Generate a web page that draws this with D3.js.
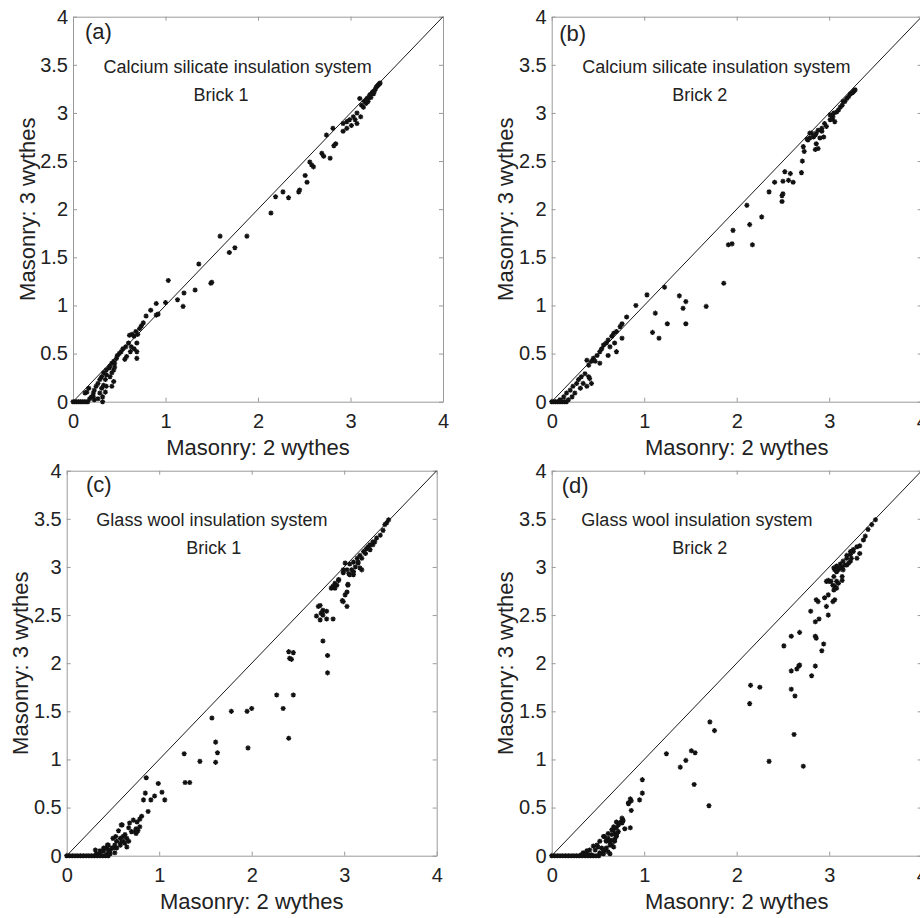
<!DOCTYPE html>
<html><head><meta charset="utf-8">
<script src="https://cdn.jsdelivr.net/npm/d3@7"></script>
<style>
html,body{margin:0;padding:0;background:#fff;}
svg{display:block;}
text{font-family:"Liberation Sans",Arial,sans-serif;fill:#222;}
</style></head>
<body>
<svg id="chart" width="920" height="918"></svg>
<script>
// ---------- data ----------
const xTicks = [0, 1, 2, 3, 4];
const yTicks = [0, 0.5, 1, 1.5, 2, 2.5, 3, 3.5, 4];
const xTickLabels = ["0", "1", "2", "3", "4"];
const yTickLabels = ["0", "0.5", "1", "1.5", "2", "2.5", "3", "3.5", "4"];
const xAxisTitle = "Masonry: 2 wythes";
const yAxisTitle = "Masonry: 3 wythes";
const panelLetters = ["(a)", "(b)", "(c)", "(d)"];
const systemNames = ["Calcium silicate insulation system", "Calcium silicate insulation system",
                     "Glass wool insulation system", "Glass wool insulation system"];
const brickNames = ["Brick 1", "Brick 2", "Brick 1", "Brick 2"];
const diagonal = [[0, 0], [4, 4]];

const pointsA = [[0,0],[0.02,0],[0.04,0],[0.06,0],[0.08,0],[0.10,0],[0.12,0],[0.14,0],[0.16,0],
[0.13,0.09],[0.15,0.10],[0.17,0.14],[0.18,0.03],[0.20,0.05],[0.22,0.09],[0.22,0.05],[0.23,0.12],[0.23,0.02],[0.25,0.16],[0.27,0.19],[0.27,0.03],[0.29,0.23],[0.29,0.09],[0.31,0.26],[0.31,0.14],[0.32,0.05],[0.32,0.0],[0.33,0.30],[0.33,0.17],[0.35,0.23],[0.35,0.10],[0.36,0.33],[0.36,0.28],[0.36,0.16],[0.39,0.35],[0.40,0.37],[0.40,0.26],[0.42,0.40],[0.42,0.30],[0.42,0.16],[0.44,0.42],[0.44,0.33],[0.44,0.21],[0.45,0.40],[0.45,0.36],[0.47,0.45],[0.48,0.48],[0.50,0.50],[0.52,0.52],[0.54,0.55],[0.56,0.44],[0.57,0.57],[0.58,0.47],[0.60,0.61],[0.62,0.52],[0.63,0.57],[0.66,0.55],[0.69,0.61],[0.69,0.52],[0.69,0.45],[0.61,0.69],[0.64,0.70],[0.66,0.68],[0.68,0.73],[0.70,0.70],[0.72,0.76],[0.74,0.79],[0.76,0.82],[0.79,0.89],[0.84,0.95],[0.90,1.02],[0.90,0.90],[0.92,0.91],[1.00,1.03],[1.03,1.26],[1.13,1.06],[1.19,0.99],[1.20,1.13],[1.32,1.16],[1.36,1.43],[1.50,1.24],[1.49,1.23],[1.59,1.72],[1.69,1.55],[1.75,1.60],[1.88,1.72],[2.14,1.96],[2.19,2.13],[2.27,2.18],[2.33,2.12],[2.44,2.18],[2.45,2.20],[2.51,2.35],[2.53,2.28],[2.56,2.49],[2.58,2.46],[2.60,2.44],[2.69,2.58],[2.71,2.55],[2.74,2.77],[2.78,2.53],[2.81,2.84],[2.82,2.66],[2.84,2.68],[2.92,2.81],[2.92,2.89],[2.96,2.84],[2.96,2.91],[2.99,2.93],[3.01,2.87],[3.03,2.96],[3.05,2.93],[3.07,2.89],[3.07,3.00],[3.10,3.15],[3.11,2.96],[3.14,3.06],[3.12,3.08],[3.15,3.12],[3.17,3.10],[3.18,3.15],[3.20,3.16],[3.21,3.19],[3.23,3.20],[3.24,3.22],[3.26,3.23],[3.27,3.25],[3.28,3.27],[3.29,3.28],[3.30,3.29],[3.31,3.30],[3.32,3.31],[3.22,3.16],[3.25,3.20],[3.19,3.12]];

const pointsB = [[0,0],[0.02,0],[0.04,0],[0.06,0],[0.08,0],[0.10,0],[0.12,0],[0.14,0],[0.16,0],
[0.09,0.02],[0.13,0.05],[0.16,0.09],[0.18,0.02],[0.20,0.12],[0.22,0.05],[0.23,0.16],[0.25,0.09],[0.27,0.19],[0.29,0.23],[0.31,0.14],[0.32,0.26],[0.34,0.19],[0.36,0.29],[0.38,0.16],[0.38,0.43],[0.40,0.38],[0.40,0.26],[0.41,0.24],[0.43,0.42],[0.43,0.19],[0.45,0.45],[0.47,0.42],[0.49,0.48],[0.52,0.52],[0.52,0.40],[0.54,0.55],[0.56,0.59],[0.59,0.61],[0.61,0.64],[0.61,0.48],[0.63,0.57],[0.65,0.68],[0.67,0.71],[0.68,0.61],[0.70,0.73],[0.70,0.52],[0.74,0.78],[0.76,0.81],[0.76,0.66],[0.81,0.88],[0.91,1.00],[1.03,1.11],[1.09,0.72],[1.12,0.92],[1.16,0.66],[1.22,1.19],[1.25,0.81],[1.38,1.10],[1.42,0.97],[1.45,1.04],[1.45,0.81],[1.67,0.99],[1.86,1.23],[1.91,1.63],[1.95,1.64],[1.96,1.78],[2.11,2.04],[2.14,1.84],[2.17,1.63],[2.27,1.92],[2.35,2.18],[2.41,2.28],[2.49,2.14],[2.49,2.08],[2.50,2.29],[2.50,2.16],[2.52,2.39],[2.56,2.30],[2.58,2.37],[2.61,2.28],[2.70,2.38],[2.71,2.50],[2.72,2.65],[2.73,2.60],[2.76,2.73],[2.77,2.72],[2.79,2.79],[2.79,2.74],[2.81,2.79],[2.83,2.75],[2.85,2.62],[2.85,2.77],[2.86,2.79],[2.86,2.68],[2.88,2.63],[2.88,2.82],[2.90,2.74],[2.92,2.81],[2.92,2.84],[2.94,2.75],[2.95,2.89],[2.97,2.86],[3.01,2.98],[3.01,2.93],[3.03,2.94],[3.04,2.96],[3.05,3.00],[3.06,2.91],[3.08,3.01],[3.10,3.03],[3.12,3.06],[3.14,3.08],[3.15,3.12],[3.17,3.12],[3.19,3.15],[3.21,3.17],[3.23,3.20],[3.25,3.21],[3.26,3.22],[3.27,3.23],[3.28,3.24]];

const pointsC = [[0,0],[0.03,0],[0.06,0],[0.09,0],[0.12,0],[0.15,0],[0.18,0],[0.21,0],[0.24,0],[0.27,0],[0.30,0],[0.33,0],[0.36,0],[0.39,0],[0.42,0],[0.45,0],
[0.31,0.06],[0.32,0.02],[0.36,0.02],[0.36,0.05],[0.40,0.05],[0.40,0.08],[0.43,0.08],[0.43,0.01],[0.44,0.11],[0.45,0.11],[0.45,0.05],[0.47,0.02],[0.47,0.06],[0.49,0.08],[0.50,0.18],[0.50,0.08],[0.52,0.11],[0.52,0.03],[0.53,0.20],[0.54,0.08],[0.54,0.15],[0.56,0.26],[0.58,0.13],[0.58,0.18],[0.58,0.11],[0.59,0.32],[0.60,0.32],[0.61,0.20],[0.61,0.15],[0.63,0.13],[0.63,0.22],[0.65,0.09],[0.65,0.18],[0.67,0.15],[0.67,0.29],[0.68,0.34],[0.70,0.25],[0.72,0.37],[0.74,0.25],[0.75,0.28],[0.75,0.23],[0.76,0.35],[0.77,0.26],[0.79,0.38],[0.79,0.30],[0.81,0.41],[0.83,0.58],[0.85,0.65],[0.86,0.81],[0.88,0.46],[0.91,0.58],[0.95,0.62],[0.99,0.75],[1.03,0.66],[1.06,0.58],[1.27,1.06],[1.28,0.76],[1.33,0.76],[1.44,0.98],[1.57,1.43],[1.61,1.18],[1.63,1.07],[1.61,0.97],[1.78,1.50],[1.95,1.50],[1.96,1.12],[2.00,1.53],[2.27,1.67],[2.34,1.53],[2.40,1.22],[2.40,2.12],[2.41,2.05],[2.43,2.04],[2.45,2.11],[2.45,1.67],[2.70,2.49],[2.72,2.59],[2.74,2.45],[2.74,2.60],[2.75,2.52],[2.76,2.52],[2.77,2.50],[2.77,2.55],[2.77,2.23],[2.81,2.46],[2.81,2.54],[2.82,2.08],[2.82,1.90],[2.86,2.78],[2.88,2.80],[2.88,2.46],[2.88,2.79],[2.90,2.83],[2.90,2.78],[2.92,2.81],[2.94,2.86],[2.94,2.87],[2.98,2.65],[2.99,2.94],[2.99,2.97],[2.99,2.64],[3.01,2.71],[3.01,3.04],[3.03,2.59],[3.03,2.74],[3.03,2.97],[3.04,2.82],[3.04,2.81],[3.05,2.93],[3.06,2.92],[3.06,3.03],[3.08,2.97],[3.10,2.95],[3.10,3.05],[3.10,2.92],[3.12,3.00],[3.14,3.09],[3.15,3.04],[3.15,3.05],[3.17,3.12],[3.17,2.99],[3.19,3.09],[3.19,2.97],[3.21,3.16],[3.23,3.14],[3.24,3.19],[3.26,3.21],[3.28,3.23],[3.28,3.18],[3.31,3.26],[3.31,3.23],[3.33,3.26],[3.35,3.30],[3.39,3.33],[3.42,3.38],[3.44,3.44],[3.46,3.46],[3.48,3.49]];

const pointsD = [[0,0],[0.03,0],[0.06,0],[0.09,0],[0.12,0],[0.15,0],[0.18,0],[0.21,0],[0.24,0],[0.27,0],[0.30,0],[0.33,0],[0.36,0],[0.39,0],[0.42,0],[0.45,0],[0.48,0],[0.51,0],
[0.32,0.01],[0.34,0.03],[0.36,0.02],[0.38,0.05],[0.40,0.01],[0.41,0.06],[0.43,0.01],[0.45,0.10],[0.47,0.06],[0.49,0.11],[0.50,0.09],[0.52,0.15],[0.52,0.02],[0.52,0.03],[0.54,0.08],[0.56,0.20],[0.56,0.05],[0.56,0.02],[0.57,0.20],[0.58,0.06],[0.59,0.15],[0.59,0.16],[0.59,0.08],[0.61,0.18],[0.61,0.23],[0.61,0.04],[0.63,0.11],[0.63,0.15],[0.63,0.02],[0.65,0.22],[0.65,0.27],[0.65,0.11],[0.65,0.16],[0.67,0.27],[0.67,0.30],[0.67,0.09],[0.68,0.17],[0.68,0.23],[0.68,0.15],[0.70,0.29],[0.70,0.35],[0.70,0.22],[0.70,0.20],[0.72,0.25],[0.72,0.32],[0.74,0.34],[0.75,0.35],[0.76,0.39],[0.76,0.34],[0.77,0.36],[0.77,0.37],[0.79,0.28],[0.83,0.54],[0.83,0.55],[0.85,0.59],[0.85,0.29],[0.86,0.57],[0.86,0.47],[0.95,0.58],[0.98,0.65],[0.98,0.79],[1.24,1.06],[1.39,0.92],[1.45,0.99],[1.51,1.09],[1.55,1.07],[1.54,0.74],[1.70,0.52],[1.71,1.39],[1.76,1.30],[2.14,1.58],[2.15,1.77],[2.25,1.75],[2.35,0.98],[2.51,2.18],[2.59,2.28],[2.59,1.92],[2.59,1.73],[2.62,1.26],[2.63,1.66],[2.65,1.94],[2.67,1.97],[2.68,1.98],[2.68,2.32],[2.72,0.93],[2.80,2.54],[2.81,1.87],[2.85,2.28],[2.85,1.97],[2.85,2.43],[2.86,2.26],[2.86,2.66],[2.88,2.64],[2.89,2.46],[2.92,2.13],[2.94,2.20],[2.95,2.68],[2.97,2.59],[2.97,2.85],[2.99,2.50],[2.99,2.71],[2.99,2.86],[3.00,2.85],[3.02,2.85],[3.04,2.64],[3.04,2.81],[3.05,2.76],[3.05,2.90],[3.05,2.99],[3.06,2.66],[3.06,2.80],[3.06,2.97],[3.08,2.85],[3.08,2.95],[3.08,3.01],[3.08,2.78],[3.10,2.83],[3.10,2.97],[3.12,2.99],[3.12,3.03],[3.14,2.90],[3.14,2.86],[3.14,3.00],[3.15,3.06],[3.15,2.97],[3.17,3.02],[3.19,3.09],[3.19,3.02],[3.19,3.12],[3.21,3.04],[3.23,3.13],[3.23,3.06],[3.23,3.16],[3.24,3.09],[3.26,3.16],[3.26,3.18],[3.30,3.21],[3.30,3.09],[3.33,3.22],[3.33,3.14],[3.37,3.28],[3.39,3.32],[3.42,3.39],[3.46,3.44],[3.50,3.49]];

const panelPoints = [pointsA, pointsB, pointsC, pointsD];

// ---------- layout (pixels) ----------
const W = 370, H = 385;
const panelPos = [
  {left: 73,    top: 16.7,  letterDx: 12,  letterBase: 22},
  {left: 551.7, top: 16.7,  letterDx: 7.6, letterBase: 24},
  {left: 66.7,  top: 470.7, letterDx: 19.3,letterBase: 21},
  {left: 551.7, top: 470.7, letterDx: 10,  letterBase: 22.5}
];
const textPos = [
  {sx: 1.78, sy: 3.418, bx: 1.60, by: 3.127},
  {sx: 1.78, sy: 3.418, bx: 1.60, by: 3.127},
  {sx: 1.57, sy: 3.43,  bx: 1.59, by: 3.13},
  {sx: 1.57, sy: 3.43,  bx: 1.60, by: 3.13}
];
const axisColor = "#9a9a9a";

const svg = d3.select("#chart");
svg.append("rect").attr("width", 920).attr("height", 918).attr("fill", "#fff");

const asterisk = {
  draw(ctx, size) {
    const r = Math.sqrt(size) / 2, d = r * 0.7071;
    ctx.moveTo(-r, 0); ctx.lineTo(r, 0);
    ctx.moveTo(0, -r); ctx.lineTo(0, r);
    ctx.moveTo(-d, -d); ctx.lineTo(d, d);
    ctx.moveTo(-d, d); ctx.lineTo(d, -d);
  }
};
const sym = d3.symbol().type(asterisk).size(26);

panelPos.forEach((p, i) => {
  const x = d3.scaleLinear().domain([0, 4]).range([0, W]);
  const y = d3.scaleLinear().domain([0, 4]).range([H, 0]);
  const g = svg.append("g").attr("transform", `translate(${p.left},${p.top})`);

  const styleAxis = sel => {
    sel.select(".domain").attr("stroke", axisColor).attr("stroke-width", 1);
    sel.selectAll(".tick line").attr("stroke", axisColor);
    sel.selectAll(".tick text").attr("font-size", 20).attr("fill", "#262626")
      .attr("font-family", '"Liberation Sans", Arial, sans-serif');
  };

  g.append("g").attr("transform", `translate(0,${H})`)
    .call(d3.axisBottom(x).tickValues(xTicks).tickFormat((d, k) => xTickLabels[k])
      .tickSizeInner(-4).tickSizeOuter(0).tickPadding(12))
    .call(styleAxis);
  g.append("g")
    .call(d3.axisLeft(y).tickValues(yTicks).tickFormat((d, k) => yTickLabels[k])
      .tickSizeInner(-4).tickSizeOuter(0).tickPadding(5))
    .call(styleAxis);
  g.append("g")
    .call(d3.axisTop(x).tickValues(xTicks).tickFormat("").tickSizeInner(-4).tickSizeOuter(0))
    .call(styleAxis);
  g.append("g").attr("transform", `translate(${W},0)`)
    .call(d3.axisRight(y).tickValues(yTicks).tickFormat("").tickSizeInner(-4).tickSizeOuter(0))
    .call(styleAxis);
  g.selectAll(".domain").attr("fill", "none");

  // diagonal 1:1 line
  g.append("path")
    .attr("d", d3.line().x(d => x(d[0])).y(d => y(d[1]))(diagonal))
    .attr("stroke", "#1a1a1a").attr("stroke-width", 1).attr("fill", "none");

  // points
  g.append("g").selectAll("path").data(panelPoints[i]).join("path")
    .attr("transform", d => `translate(${x(d[0])},${y(d[1])})`)
    .attr("d", sym)
    .attr("fill", "none").attr("stroke", "#111").attr("stroke-width", 1.3);

  // annotations
  const t = textPos[i];
  g.append("text").attr("x", x(t.sx)).attr("y", y(t.sy)).attr("text-anchor", "middle")
    .attr("font-size", 18).text(systemNames[i]);
  g.append("text").attr("x", x(t.bx)).attr("y", y(t.by)).attr("text-anchor", "middle")
    .attr("font-size", 18).text(brickNames[i]);
  g.append("text").attr("x", p.letterDx).attr("y", p.letterBase)
    .attr("font-size", 22).text(panelLetters[i]);

  // axis titles
  g.append("text").attr("x", W / 2).attr("y", H + 53.5).attr("text-anchor", "middle")
    .attr("font-size", 22).text(xAxisTitle);
  g.append("text").attr("transform", `translate(-38.5,${H / 2}) rotate(-90)`)
    .attr("text-anchor", "middle").attr("font-size", 22).text(yAxisTitle);
});
</script>
</body></html>
